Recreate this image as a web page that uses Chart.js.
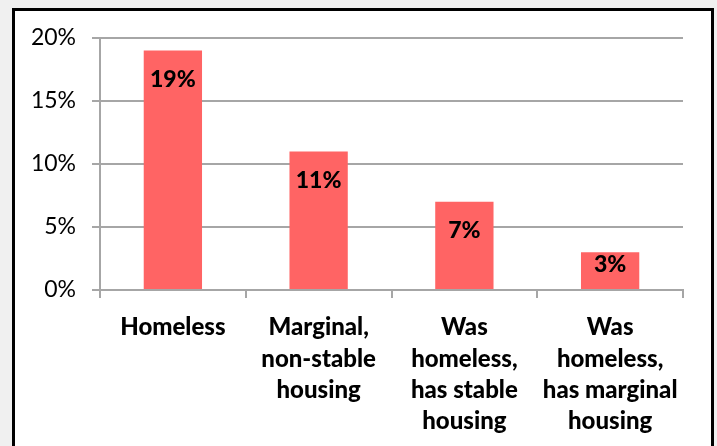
<!DOCTYPE html>
<html>
<head>
<meta charset="utf-8">
<script src="https://cdn.jsdelivr.net/npm/chart.js@4"></script>
<style>
  body { margin: 0; background: #f0f0f0; width: 717px; height: 446px; overflow: hidden; position: relative; }
  .frame { position: absolute; left: 12px; top: 8px; width: 696px; height: 460px; border: 3px solid #000; background: #fff; }
  #chart { position: absolute; left: 0; top: 0; }
</style>
</head>
<body>
<div class="frame"></div>
<canvas id="chart" width="717" height="446"></canvas>
<script>
// chart data
const categories = [
  ["Homeless"],
  ["Marginal,", "non-stable", "housing"],
  ["Was", "homeless,", "has stable", "housing"],
  ["Was", "homeless,", "has marginal", "housing"]
];
const values = [19, 11, 7, 3];
const yTicks = [0, 5, 10, 15, 20];

// Labels inside the top of each bar
const barLabels = {
  id: "barLabels",
  afterDatasetsDraw(chart) {
    const ctx = chart.ctx;
    const meta = chart.getDatasetMeta(0);
    ctx.save();
    ctx.font = "900 23px Lato";
    ctx.fillStyle = "#000";
    ctx.textAlign = "center";
    ctx.textBaseline = "middle";
    meta.data.forEach((bar, i) => {
      const h = bar.base - bar.y;
      const off = Math.min(29, h / 2 - 6);
      ctx.fillText(values[i] + "%", bar.x, bar.y + off);
    });
    ctx.restore();
  }
};

new Chart(document.getElementById("chart"), {
  type: "bar",
  data: {
    labels: categories,
    datasets: [
      {
        data: values,
        backgroundColor: "#ff6464",
        barPercentage: 0.4,
        categoryPercentage: 1
      }
    ]
  },
  options: {
    responsive: false,
    animation: false,
    layout: { padding: { left: 0, right: 34, top: 38, bottom: 0 } },
    plugins: { legend: { display: false }, tooltip: { enabled: false } },
    scales: {
      x: {
        afterFit: (s) => { s.height = 156; },
        grid: { drawOnChartArea: false, color: "#a6a6a6", lineWidth: 2, tickLength: 8 },
        border: { color: "#a6a6a6", width: 2 },
        ticks: {
          color: "#000",
          padding: 14,
          maxRotation: 0,
          font: { family: "Lato", size: 24, weight: "900", lineHeight: 1.3 }
        }
      },
      y: {
        min: 0,
        max: 20,
        afterFit: (s) => { s.width = 100; },
        afterBuildTicks: (s) => { s.ticks = yTicks.map((v) => ({ value: v })); },
        grid: { color: "#a6a6a6", lineWidth: 2, tickLength: 8 },
        border: { color: "#a6a6a6", width: 2 },
        ticks: {
          color: "#000",
          padding: 16,
          font: { family: "Lato", size: 23 },
          callback: (v) => v + "%"
        }
      }
    }
  },
  plugins: [barLabels]
});
</script>
</body>
</html>
